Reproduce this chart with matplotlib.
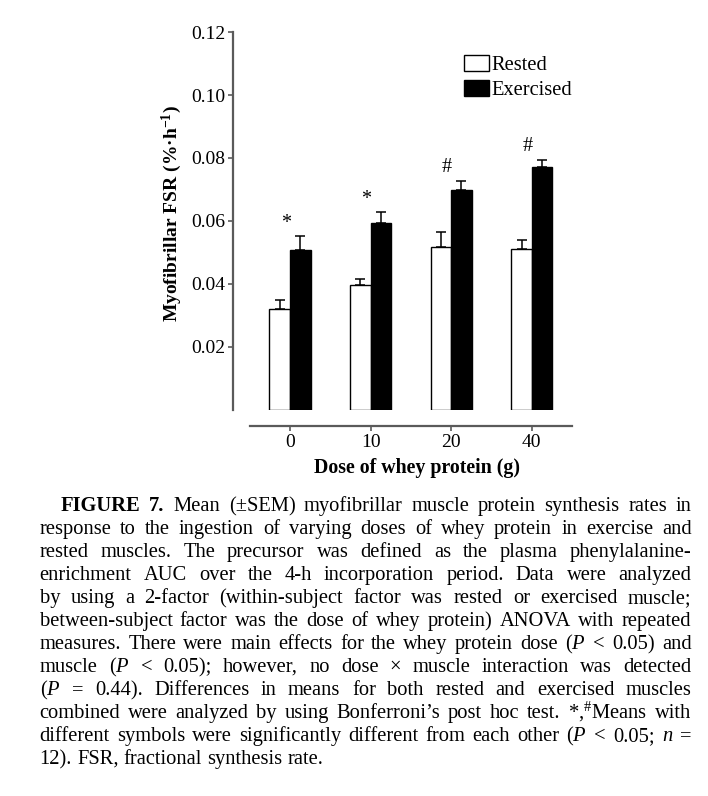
import numpy as np
import matplotlib
matplotlib.use('Agg')
import matplotlib.pyplot as plt
from matplotlib.transforms import IdentityTransform

plt.rcParams['font.family'] = 'Liberation Serif'
plt.rcParams['mathtext.fontset'] = 'custom'
plt.rcParams['mathtext.rm'] = 'Liberation Serif'
plt.rcParams['mathtext.it'] = 'Liberation Serif:italic'
plt.rcParams['mathtext.bf'] = 'Liberation Serif:bold'

doses = ['0', '10', '20', '40']
rested = [0.0321, 0.0395, 0.0517, 0.0512]
rested_err = [0.0027, 0.0021, 0.0046, 0.0027]
exercised = [0.0507, 0.0593, 0.0698, 0.0770]
exercised_err = [0.0044, 0.0034, 0.0030, 0.0025]
symbols = ['*', '*', '#', '#']
series_names = ['Rested', 'Exercised']
y_ticks = [0.02, 0.04, 0.06, 0.08, 0.10, 0.12]

caption = [
    r"FIGURE 7. Mean (±SEM) myofibrillar muscle protein synthesis rates in",
    r"response to the ingestion of varying doses of whey protein in exercise and",
    r"rested muscles. The precursor was defined as the plasma phenylalanine-",
    r"enrichment AUC over the 4-h incorporation period. Data were analyzed",
    r"by using a 2-factor (within-subject factor was rested or exercised muscle;",
    r"between-subject factor was the dose of whey protein) ANOVA with repeated",
    r"measures. There were main effects for the whey protein dose ($P$ < 0.05) and",
    r"muscle ($P$ < 0.05); however, no dose × muscle interaction was detected",
    r"($P$ = 0.44). Differences in means for both rested and exercised muscles",
    r"combined were analyzed by using Bonferroni’s post hoc test. *,$^{\#}$Means with",
    r"different symbols were significantly different from each other ($P$ < 0.05; $n$ =",
    r"12). FSR, fractional synthesis rate.",
]

W, H = 708, 796
fig = plt.figure(figsize=(W / 100, H / 100), dpi=100)

# axes box in pixels: left spine x=233, y 0 -> 409.6, 0.12 -> 32.1
ax_l, ax_r, ax_b, ax_t = 233.3, 572.0, 409.6, 32.1
ax = fig.add_axes([ax_l / W, 1 - ax_b / H, (ax_r - ax_l) / W, (ax_b - ax_t) / H])

x = np.arange(len(doses))
bw = 0.255
grey = '#5a5a5a'

b1 = ax.bar(x - bw / 2, rested, bw, color='white', edgecolor='black', linewidth=1.0,
            label=series_names[0], zorder=2)
b2 = ax.bar(x + bw / 2, exercised, bw, color='black', edgecolor='black', linewidth=1.0,
            label=series_names[1], zorder=2)
ax.errorbar(x - bw / 2, rested, yerr=[np.zeros(4), rested_err], fmt='none',
            ecolor='black', elinewidth=1.1, capsize=3.6, capthick=1.1, zorder=1)
ax.errorbar(x + bw / 2, exercised, yerr=[np.zeros(4), exercised_err], fmt='none',
            ecolor='black', elinewidth=1.1, capsize=3.6, capthick=1.1, zorder=1)

for i in range(len(doses)):
    ax.annotate(symbols[i], (x[i] - 0.05, exercised[i] + exercised_err[i]),
                xytext=(0, 6), textcoords='offset points', ha='center', va='baseline',
                fontsize=14.5)

x_left = (ax_l - 290) / 80.6
ax.set_xlim(x_left, 3.499)
ax.set_ylim(0, 0.12)
ax.set_xticks(x)
ax.set_xticklabels(doses)
ax.set_yticks(y_ticks)
ax.set_yticklabels(['%.2f' % v for v in y_ticks])

for s in ['top', 'right']:
    ax.spines[s].set_visible(False)
ax.spines['left'].set_color(grey)
ax.spines['left'].set_linewidth(1.6)
ax.spines['bottom'].set_color(grey)
ax.spines['bottom'].set_linewidth(1.6)
ax.spines['bottom'].set_position(('outward', 11.8))
ax.spines['bottom'].set_bounds((250 - 290) / 80.6, 3.499)
ax.tick_params(axis='both', colors=grey, labelcolor='black', labelsize=14,
               length=3.5, width=1.2, pad=2)

ax.set_xlabel('Dose of whey protein (g)', fontsize=14.3, fontweight='bold')
ax.xaxis.set_label_coords((416.7 - ax_l) / (ax_r - ax_l), -(458 - ax_b) / (ax_b - ax_t))
ax.set_ylabel(r'Myofibrillar FSR (%·h$^{\mathbf{-1}}$)', fontsize=14, fontweight='bold')
ax.yaxis.set_label_coords(-(ax_l - 184) / (ax_r - ax_l), (ax_b - 214) / (ax_b - ax_t))

ax.legend(handles=[b1, b2], loc='upper left', frameon=False, fontsize=14.8,
          bbox_to_anchor=(464 / W, 1 - 55 / H), bbox_transform=fig.transFigure,
          handlelength=1.22, handleheight=0.85, handletextpad=0.1, labelspacing=0.22,
          borderpad=0, borderaxespad=0)

# justified caption
fs = 14.8
renderer = fig.canvas.get_renderer()
left, right, first_left = 39.5, 691.5, 61.0
base0, line_dy = 511.0, 23.0
space_px = 0.25 * fs * 100 / 72
for k, line in enumerate(caption):
    words = line.split(' ')
    arts = []
    for j, w in enumerate(words):
        bold = (k == 0 and j < 2)
        t = fig.text(0, 0, w, fontsize=fs, fontweight='bold' if bold else 'normal',
                     ha='left', va='baseline', transform=IdentityTransform())
        arts.append(t)
    widths = [t.get_window_extent(renderer).width for t in arts]
    x0 = first_left if k == 0 else left
    if k == len(caption) - 1:
        gap = space_px
    else:
        gap = max((right - x0 - sum(widths)) / (len(words) - 1), 0.5 * space_px)
    yb = H - (base0 + k * line_dy)
    cx = x0
    for t, wd in zip(arts, widths):
        t.set_position((cx, yb))
        cx += wd + gap

fig.savefig('out.png', dpi=100)
